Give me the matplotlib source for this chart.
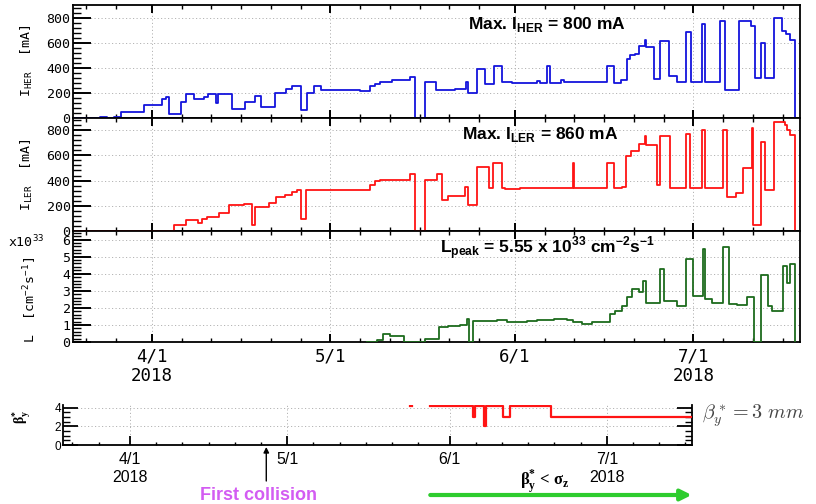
import numpy as np
import matplotlib
matplotlib.use('Agg')
import matplotlib.pyplot as plt
import matplotlib.dates as mdates
from matplotlib.ticker import MultipleLocator

# ---------------- data (days measured from 2018-04-01) ----------------
her_day = [-13.2, -8.7, -7.6, -6.3, -5.2, -1.4, 1.7, 2.4, 2.8, 4.9, 5.8, 7.0, 8.7, 9.5,
           10.8, 11.1, 13.5, 15.7, 17.4, 18.4, 20.7, 22.6, 23.5, 25.1, 26.1, 27.3, 28.4,
           35.0, 36.7, 37.5, 38.4, 40.3, 43.4, 44.2, 45.9, 47.8, 51.0, 52.8, 53.2, 54.6,
           56.0, 57.5, 58.8, 60.5, 64.7, 65.2, 66.4, 66.9, 68.7, 69.2, 76.4, 77.6, 78.8,
           79.8, 80.4, 81.2, 81.9, 82.9, 83.1, 84.4, 85.4, 86.9, 88.2, 89.8, 90.6, 92.4,
           93.0, 95.5, 96.3, 98.6, 100.7, 101.4, 102.4, 103.1, 104.6, 105.8, 106.6, 107.2,
           108.0]
her_ma = [0, 5, 0, 8, 45, 100, 150, 165, 27, 125, 192, 150, 165, 187,
          120, 187, 67, 125, 173, 85, 200, 227, 250, 59, 200, 253, 218,
          213, 250, 267, 285, 299, 325, 0, 285, 219, 227, 285, 197, 392,
          272, 413, 285, 277, 293, 277, 413, 280, 299, 285, 412, 280, 297,
          466, 498, 511, 573, 618, 565, 310, 613, 329, 284, 685, 284, 747,
          284, 773, 222, 773, 733, 318, 597, 318, 800, 693, 672, 618,
          0]

ler_day = [-13.2, 3.8, 5.8, 7.7, 8.5, 9.2, 11.2, 12.9, 15.4, 16.8, 17.4, 19.6, 20.9,
           22.4, 23.5, 24.4, 25.1, 25.9, 36.7, 37.5, 38.4, 43.4, 44.2, 45.9, 47.9,
           48.7, 49.8, 52.6, 53.2, 54.6, 56.6, 57.4, 58.8, 59.4, 60.2, 61.9, 70.8,
           71.0, 76.4, 77.7, 79.0, 79.6, 80.5, 81.8, 82.9, 83.0, 84.9, 85.4, 87.0,
           89.8, 90.4, 92.4, 93.0, 95.9, 96.6, 98.1, 99.4, 100.8, 101.0, 102.4, 103.1,
           104.6, 106.4, 106.7, 107.2, 108.0]
ler_ma = [0, 45, 85, 64, 98, 111, 143, 204, 212, 45, 191, 222, 270,
          283, 310, 323, 98, 323, 363, 395, 408, 450, 0, 403, 450,
          244, 278, 350, 204, 509, 342, 540, 342, 335, 331, 342, 540,
          342, 540, 342, 350, 596, 633, 689, 755, 681, 368, 755, 342,
          773, 342, 800, 342, 800, 270, 302, 503, 818, 50, 702, 323,
          861, 840, 800, 765, 0]

lum_day = [36.1, 37.8, 38.9, 40.0, 42.3, 45.9, 48.2, 49.8, 51.8, 52.9, 53.3, 54.0, 58.0,
           59.6, 63.0, 64.7, 67.5, 69.7, 70.8, 72.2, 73.9, 76.9, 77.8, 79.0, 79.8, 80.6,
           81.8, 82.6, 83.0, 85.4, 86.0, 88.2, 89.8, 91.0, 92.6, 93.0, 94.1, 96.0, 97.0,
           98.3, 100.0, 101.2, 102.4, 103.6, 104.2, 106.0, 106.7, 107.2, 108.0]
lum_1e33 = [0, 0.12, 0.47, 0.37, 0.02, 0.2, 0.86, 0.96, 1.02, 1.35, 0.0, 1.21, 1.30,
            1.17, 1.21, 1.27, 1.33, 1.27, 1.17, 1.06, 1.15, 1.63, 1.8, 2.12, 2.64, 3.09,
            2.93, 3.55, 2.29, 4.29, 2.41, 2.1, 4.87, 2.68, 5.46, 2.54, 2.29, 5.55, 2.21,
            2.16, 2.64, 0, 3.9, 2.1, 1.83, 4.43, 3.46, 4.58, 0]

beta_day = [53.5, 53.9, 57.3, 65.5, 65.9, 67.5, 67.9, 71.2, 72.6, 80.4, 107.2]
beta_mm = [4.2, np.nan, 4.2, 3.0, 4.2, 2.0, 4.2, 3.0, 4.2, 3.0, 3.0]

first_collision_day = 26.0
tick_days = [0, 30, 61, 91]
tick_labels = ['4/1\n2018', '5/1', '6/1', '7/1\n2018']

assert len(her_day) == len(her_ma)
assert len(ler_day) == len(ler_ma)
assert len(lum_day) == len(lum_1e33)
assert len(beta_day) == len(beta_mm)

T0 = np.datetime64('2018-04-01T00:00:00')


def to_dates(days):
    return T0 + (np.asarray(days, dtype=float) * 86400).astype('timedelta64[s]')


# ---------------- figure ----------------
W, H = 816, 504
fig = plt.figure(figsize=(W / 100, H / 100), dpi=100)


def px_axes(l, t, r, b):
    return fig.add_axes([l / W, 1 - b / H, (r - l) / W, (b - t) / H])


GRID = dict(linestyle=(0, (1.2, 2.4)), color='#b4b4b4', linewidth=0.7)
MONO = 'DejaVu Sans Mono'
SANS = 'Liberation Sans'

ax1 = px_axes(73.3, 5, 800, 117.5)
ax2 = px_axes(73.3, 117.5, 800, 231)
ax3 = px_axes(73.3, 231, 800, 342)

top_xlim = to_dates([-13.2, 108.9])
series = [(ax1, her_day, her_ma, '#1414dc', (0, 900), 200, 40),
          (ax2, ler_day, ler_ma, '#ff1414', (0, 900), 200, 40),
          (ax3, lum_day, lum_1e33, '#1d6b1d', (0, 6.5), 1, 0.2)]

for ax, d, v, c, yl, maj, mnr in series:
    ax.step(to_dates(d), v, where='post', color=c, lw=1.3, zorder=3)
    ax.set_xlim(top_xlim)
    ax.set_ylim(*yl)
    ax.yaxis.set_major_locator(MultipleLocator(maj))
    ax.yaxis.set_minor_locator(MultipleLocator(mnr))
    ax.set_xticks(to_dates(tick_days))
    ax.xaxis.set_minor_locator(mdates.DayLocator(bymonthday=[6, 11, 16, 21, 26]))
    ax.grid(True, which='major', **GRID)
    ax.tick_params(axis='y', which='major', direction='in', length=13, width=1.4,
                   left=True, right=False, labelsize=9.5, pad=2)
    ax.tick_params(axis='y', which='minor', direction='in', length=6, width=1.0,
                   left=True, right=False)
    ax.tick_params(axis='x', which='major', direction='in', length=5.5, width=1.4,
                   top=True, bottom=True)
    ax.tick_params(axis='x', which='minor', direction='in', length=3, width=1.0,
                   top=True, bottom=True)
    for s in ax.spines.values():
        s.set_linewidth(1.3)
    for lab in ax.get_yticklabels():
        lab.set_family(MONO)
    if ax is not ax3:
        ax.tick_params(axis='x', labelbottom=False)

ax3.set_xticklabels(tick_labels, family=MONO, fontsize=12.5, linespacing=1.1)
ax3.tick_params(axis='x', which='major', pad=4)

# y labels
fig.text(27 / W, 1 - 61 / H, r'I$_{\mathregular{HER}}$  [mA]', rotation=90,
         family=MONO, fontsize=9.5, ha='center', va='center')
fig.text(27 / W, 1 - 175 / H, r'I$_{\mathregular{LER}}$  [mA]', rotation=90,
         family=MONO, fontsize=9.5, ha='center', va='center')
fig.text(30 / W, 1 - 300 / H, r'L  [cm$^{\mathregular{-2}}$s$^{\mathregular{-1}}$]',
         rotation=90, family=MONO, fontsize=9.5, ha='center', va='center')
fig.text(8 / W, 1 - 242 / H, r'x10$^{\mathregular{33}}$', family=MONO, fontsize=9.5,
         ha='left', va='center')

# in-panel annotations
fig.text(468 / W, 1 - 24 / H, r'Max. I$_{\mathregular{HER}}$ = 800 mA', family=SANS,
         weight='bold', fontsize=12.5, ha='left', va='center')
fig.text(462 / W, 1 - 135 / H, r'Max. I$_{\mathregular{LER}}$ = 860 mA', family=SANS,
         weight='bold', fontsize=12.5, ha='left', va='center')
fig.text(440 / W, 1 - 248 / H,
         r'L$_{\mathregular{peak}}$ = 5.55 x 10$^{\mathregular{33}}$ cm$^{\mathregular{-2}}$s$^{\mathregular{-1}}$',
         family=SANS, weight='bold', fontsize=12.5, ha='left', va='center')

# ---------------- beta panel ----------------
axb = px_axes(63, 405, 691.7, 445)
axb.step(to_dates(beta_day), beta_mm, where='post', color='#ff1414', lw=1.6, zorder=3)
axb.set_xlim(to_dates([-12.8, 107.2]))
axb.set_ylim(0, 4.3)
axb.yaxis.set_major_locator(MultipleLocator(2))
axb.yaxis.set_minor_locator(MultipleLocator(0.5))
axb.set_xticks(to_dates(tick_days))
axb.set_xticklabels(tick_labels, family=SANS, fontsize=11.5, linespacing=1.25)
axb.xaxis.set_minor_locator(mdates.DayLocator(bymonthday=[6, 11, 16, 21, 26]))
axb.grid(True, which='major', **GRID)
axb.spines['top'].set_visible(False)
for s in ['left', 'right', 'bottom']:
    axb.spines[s].set_linewidth(1.3)
axb.tick_params(axis='y', which='major', direction='in', length=11, width=1.3,
                left=True, right=True, labelsize=8.5, pad=1.5)
axb.tick_params(axis='y', which='minor', direction='in', length=5, width=1.0,
                left=True, right=True)
axb.tick_params(axis='x', which='major', direction='in', length=6.5, width=1.3,
                top=False, bottom=True, pad=5)
axb.tick_params(axis='x', which='minor', direction='in', length=2.5, width=1.0,
                top=False, bottom=True)
for lab in axb.get_yticklabels():
    lab.set_family(SANS)

fig.text(22 / W, 1 - 417 / H, r'β$_{\mathregular{y}}^{\mathregular{*}}$', rotation=90,
         family='Liberation Serif', weight='bold', fontsize=10, ha='center', va='center')

fig.text(702 / W, 1 - 416 / H, r'$\beta_y^* = 3\ mm$', math_fontfamily='cm',
         fontsize=14.5, color='#444444', ha='left', va='center')

# first collision arrow and label
axb.annotate('', xy=(to_dates([first_collision_day])[0], H - 447),
             xytext=(to_dates([first_collision_day])[0], H - 481),
             xycoords=('data', 'figure pixels'), textcoords=('data', 'figure pixels'),
             arrowprops=dict(arrowstyle='-|>', color='black', lw=1.0,
                             mutation_scale=8, shrinkA=0, shrinkB=0),
             annotation_clip=False)
fig.text(258.5 / W, 1 - 495 / H, 'First collision', family=SANS, weight='bold',
         fontsize=13, color='#d35cf2', ha='center', va='center')

# beta < sigma_z arrow
axb.annotate('', xy=(to_dates([107.2])[0], H - 495),
             xytext=(to_dates([beta_day[2]])[0], H - 495),
             xycoords=('data', 'figure pixels'), textcoords=('data', 'figure pixels'),
             arrowprops=dict(arrowstyle='-|>', color='#2ecc2e', lw=3,
                             mutation_scale=16, shrinkA=0, shrinkB=0),
             annotation_clip=False)
fig.text(545 / W, 1 - 481 / H,
         r'β$_{\mathregular{y}}^{\mathregular{*}}$ < σ$_{\mathregular{z}}$',
         family='Liberation Serif', weight='bold', fontsize=12, ha='center',
         va='center')

fig.savefig('out.png', dpi=100)
